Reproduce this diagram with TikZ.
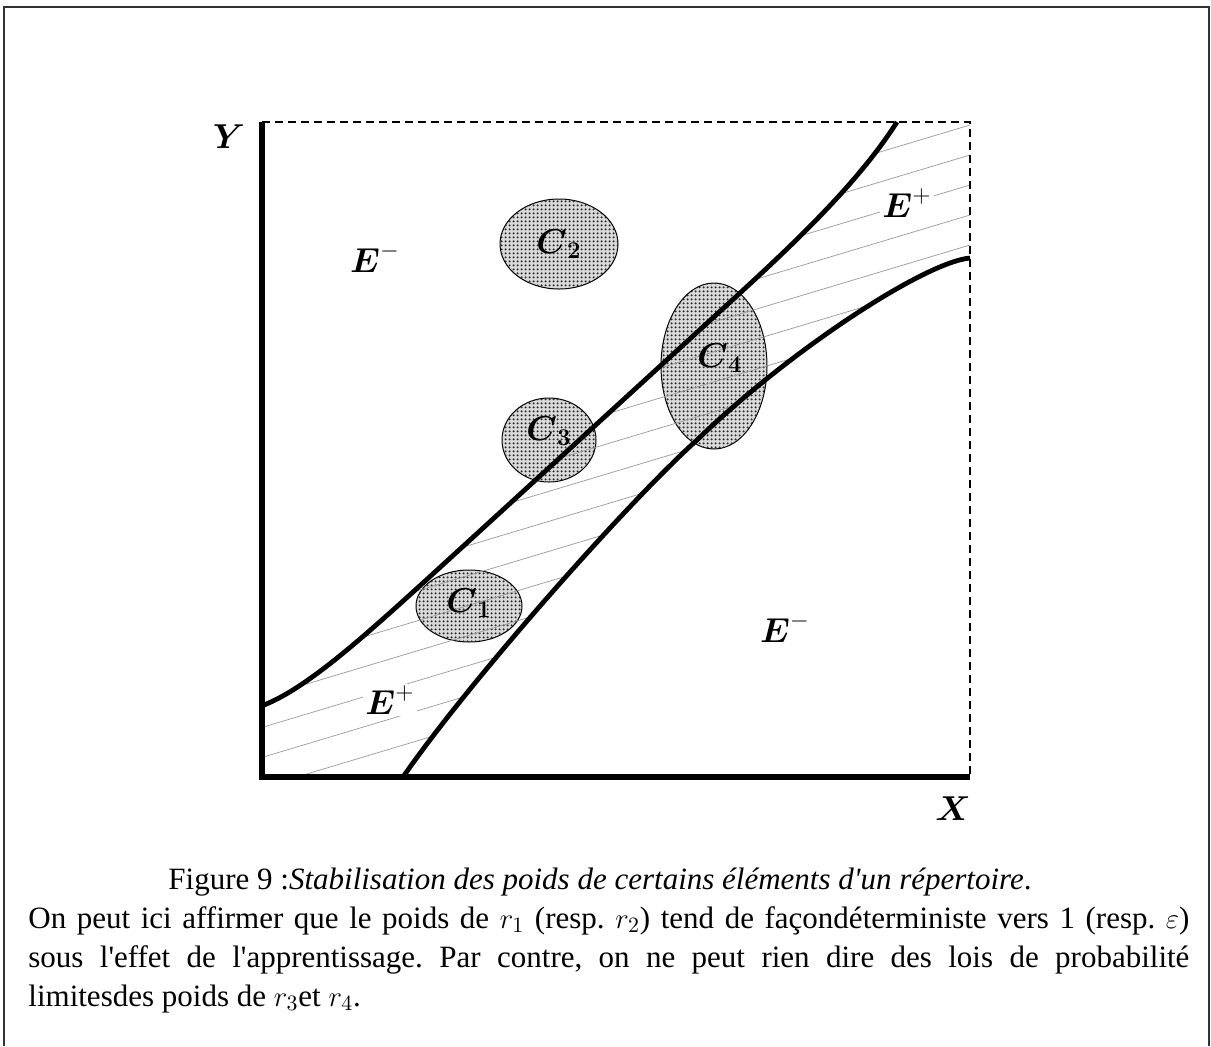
\documentclass[tikz,border=0pt]{standalone}
\usepackage{fontspec}
\setmainfont{Liberation Serif}
\usepackage{amsmath}
\usepackage{tikz}
\usetikzlibrary{shapes.geometric,patterns.meta}

\tikzdeclarepattern{
  name=fine dots,
  type=uncolored,
  bounding box={(0,0) and (1.8pt,1.8pt)},
  tile size={(1.8pt,1.8pt)},
  code={\fill (0.9pt,0.9pt) circle (0.6pt);}
}

\begin{document}
\begin{tikzpicture}[x=0.5pt,y=-0.5pt]
	\tikzset{axis line/.style={line width=2.8pt,line join=miter},
		border line/.style={line width=0.75pt,dash pattern=on 4pt off 2.5pt},
		region line/.style={line width=2.4pt},
		hatch line/.style={color=gray!80,line width=0.35pt},
		cluster/.style={ellipse,draw,line width=0.5pt,fill=gray!30,inner sep=0pt,
			postaction={pattern=fine dots,pattern color=black!85}},
		set name/.style={font=\fontsize{16.5}{19}\selectfont,inner sep=1pt},
		axis name/.style={font=\fontsize{18}{21}\selectfont},
		caption text/.style={font=\fontsize{15.5}{19.5}\selectfont\frenchspacing,inner sep=0pt}}
	\useasboundingbox (0,0) rectangle (1211,1046);
	\draw[line width=0.75pt,black!80] (4,1046) -- (4,7) -- (1209,7) -- (1209,1046);

	\def\upperline{.. controls (314,685) and (380,622) .. (470,540) -- (740,293) .. controls (800,238) and (860,180) .. (897,122)}
	\def\lowerline{.. controls (925,262) and (790,350) .. (697,440) .. controls (630,500) and (470,680) .. (403,777)}

	\coordinate (o) at (262,777);
	\coordinate (ytop) at (262,122);
	\coordinate (xend) at (970,777);
	\coordinate (corner) at (970,122);
	\coordinate (ustart) at (264,705);
	\coordinate (lstart) at (970,258);

	\node[cluster,minimum width=59pt,minimum height=45pt] (c2) at (559,244) {};
	\node[cluster,minimum width=53pt,minimum height=83pt] (c4) at (714,366) {};
	\node[cluster,minimum width=47pt,minimum height=42pt] (c3) at (549,440) {};
	\node[cluster,minimum width=53pt,minimum height=36pt] (c1) at (469,606) {};

	\begin{scope}
		\clip (ustart) \upperline -- (corner) -- (lstart) \lowerline -- (264,777) -- cycle;
		\foreach \k in {0,...,17}
			\draw[hatch line] (250,311+30*\k) -- ++(740,-222);
	\end{scope}

	\draw[region line] (ustart) \upperline;
	\draw[region line] (lstart) \lowerline;

	\draw[border line] (ytop) -- (corner) -- (xend);
	\draw[axis line] (ytop) -- (o) -- (xend);

	\node[axis name] (ylab) at (229,137) {$\boldsymbol{Y}$};
	\node[axis name] (xlab) at (953,809) {$\boldsymbol{X}$};

	\node[set name] (eminus1) at (375,258) {$\boldsymbol{E}^{-}$};
	\node[set name,fill=white] (eplus1) at (907,203) {$\boldsymbol{E}^{+}$};
	\node[set name,fill=white] (eplus2) at (390,700) {$\boldsymbol{E}^{+}$};
	\node[set name] (eminus2) at (785,628) {$\boldsymbol{E}^{-}$};

	\node[set name] (c2name) at (c2) {$\boldsymbol{C}_{\boldsymbol{2}}$};
	\node[set name,xshift=3pt,yshift=4pt] (c4name) at (c4) {$\boldsymbol{C}_{\boldsymbol{4}}$};
	\node[set name,yshift=4.5pt] (c3name) at (c3) {$\boldsymbol{C}_{\boldsymbol{3}}$};
	\node[set name,yshift=1.5pt] (c1name) at (c1) {$\boldsymbol{C}_{\boldsymbol{1}}$};

	\node[caption text,anchor=base] (title) at (600,889) {Figure 9 :\textit{Stabilisation des poids de certains éléments d\textquotesingle un répertoire}.};
	\node[caption text,anchor=base west] (line1) at (28,928) {\makebox[580.5pt][s]{On peut ici affirmer que le poids de $r_1$ (resp. $r_2$) tend de façondéterministe vers 1 (resp. $\varepsilon$)}};
	\node[caption text,anchor=base west] (line2) at (28,967) {\makebox[580.5pt][s]{sous l\textquotesingle effet de l\textquotesingle apprentissage. Par contre, on ne peut rien dire des lois de probabilité}};
	\node[caption text,anchor=base west] (line3) at (28,1006) {limitesdes poids de $r_3$et $r_4$.};
\end{tikzpicture}
\end{document}
